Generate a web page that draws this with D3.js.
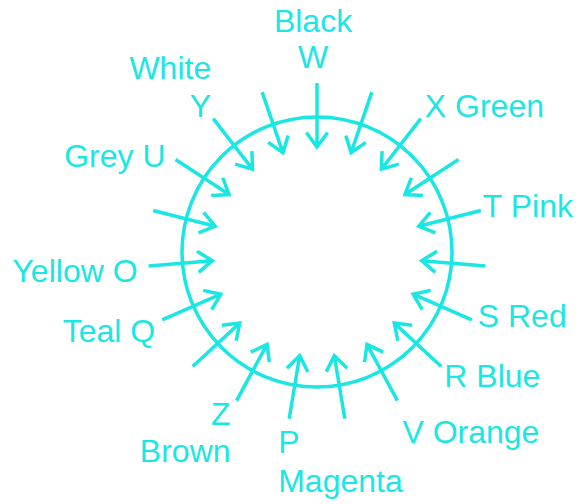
<!DOCTYPE html>
<html>
<head>
<meta charset="utf-8">
<script src="https://cdn.jsdelivr.net/npm/d3@7"></script>
<style>
  html, body { margin: 0; padding: 0; background: #ffffff; }
  svg { display: block; }
</style>
</head>
<body>
<svg id="chart" width="579" height="504"></svg>
<script>
// ---- data ----
const arrowCount = 19;                         // arrows evenly spaced around the circle
const arrowIndex = d3.range(arrowCount);
const labelArrow = [0, 2, 4, 6, 7, 8, 10, 11, 13, 14, 16, 17];
const labelLines = [
  ["Black", "W"],
  ["X Green"],
  ["T Pink"],
  ["S Red"],
  ["R Blue"],
  ["V Orange"],
  ["P", "Magenta"],
  ["Z", "Brown"],
  ["Teal Q"],
  ["Yellow O"],
  ["Grey U"],
  ["White", "Y"]
];

// ---- layout (positions / styles) ----
const W = 579, H = 504;
const cx = 317, cy = 252;
const color = "#1ae6e3";
const fontSize = 32;
const rScale = d3.scaleLinear().domain([0, 1]).range([0, 135]); // unit circle -> pixels
const circleR = 1, tailR = 169 / 135, tipR = 105 / 135;
const angle = d3.scaleLinear().domain([0, arrowCount]).range([0, 2 * Math.PI]);

// label offsets relative to the arrow tail: [dx, dy of first baseline], anchor, line gap
const labelLayout = [
  { dx: -4,  dy: -51, anchor: "middle", gap: 36 },
  { dx: 4,   dy: -2,  anchor: "start",  gap: 0 },
  { dx: 2,   dy: 6,   anchor: "start",  gap: 0 },
  { dx: 6,   dy: 7,   anchor: "start",  gap: 0 },
  { dx: 3,   dy: 21,  anchor: "start",  gap: 0 },
  { dx: 5,   dy: 42,  anchor: "start",  gap: 0 },
  { dx: -11, dy: 34,  anchor: "start",  gap: 39 },
  { dx: -6,  dy: 24,  anchor: "end",    gap: 37 },
  { dx: -7,  dy: 22,  anchor: "end",    gap: 0 },
  { dx: -11, dy: 16,  anchor: "end",    gap: 0 },
  { dx: -10, dy: 7,   anchor: "end",    gap: 0 },
  { dx: -2,  dy: -40, anchor: "end",    gap: 38 }
];

const svg = d3.select("#chart");
const g = svg.append("g");

function polar(i, r) {
  const a = angle(i);
  return [cx + rScale(r) * Math.sin(a), cy - rScale(r) * Math.cos(a)];
}

// circle
g.append("circle")
  .attr("cx", cx).attr("cy", cy).attr("r", rScale(circleR))
  .attr("fill", "none").attr("stroke", color).attr("stroke-width", 3.5);

// arrows
const headLen = 18, headHalf = 36 * Math.PI / 180;
const arrows = g.selectAll("g.arrow").data(arrowIndex).join("g").attr("class", "arrow");
arrows.append("path")
  .attr("d", i => {
    const t = polar(i, tailR), p = polar(i, tipR);
    const ang = Math.atan2(p[1] - t[1], p[0] - t[0]);
    const a1 = ang + Math.PI - headHalf, a2 = ang + Math.PI + headHalf;
    const l = d3.line();
    return l([t, p]) +
      l([[p[0] + headLen * Math.cos(a1), p[1] + headLen * Math.sin(a1)], p,
         [p[0] + headLen * Math.cos(a2), p[1] + headLen * Math.sin(a2)]]);
  })
  .attr("fill", "none").attr("stroke", color).attr("stroke-width", 3.5)
  .attr("stroke-linecap", "butt").attr("stroke-linejoin", "miter");

// labels
const labels = g.selectAll("text.label").data(labelArrow).join("text")
  .attr("class", "label")
  .attr("font-family", "'Liberation Sans', Arial, Helvetica, sans-serif")
  .attr("font-size", fontSize)
  .attr("fill", color)
  .attr("text-anchor", (d, k) => labelLayout[k].anchor);
labels.each(function (d, k) {
  const t = polar(d, tailR);
  const lay = labelLayout[k];
  d3.select(this).selectAll("tspan").data(labelLines[k]).join("tspan")
    .attr("x", t[0] + lay.dx)
    .attr("y", (s, j) => t[1] + lay.dy + j * lay.gap)
    .text(s => s);
});
</script>
</body>
</html>
